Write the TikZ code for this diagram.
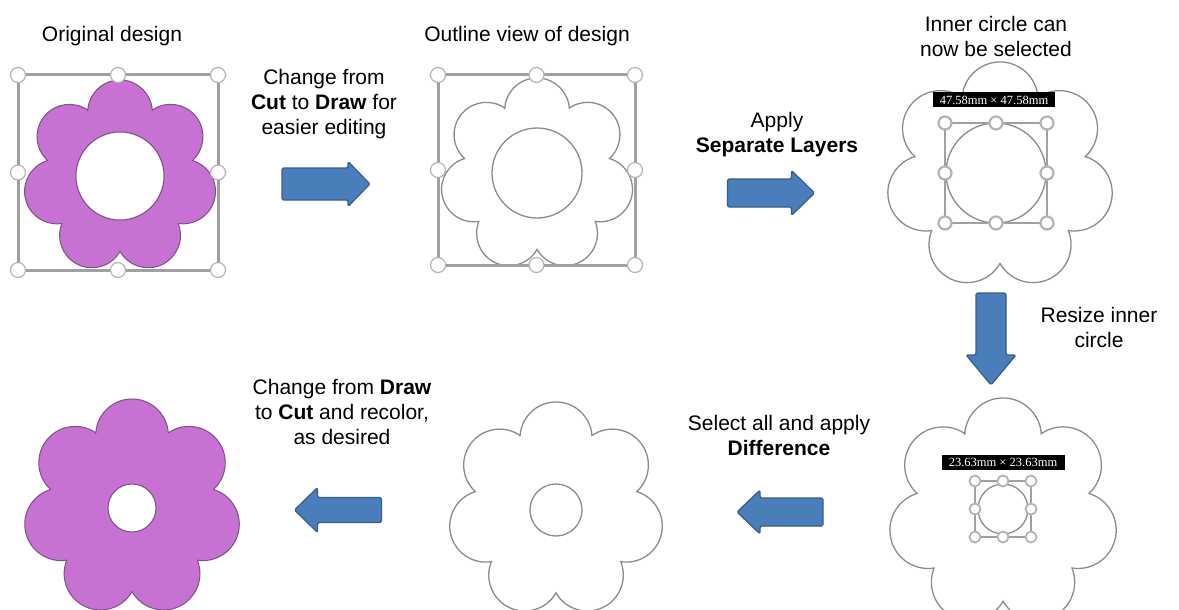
\documentclass[tikz,border=0pt]{standalone}
\usepackage{fontspec}
\setmainfont{Liberation Sans}
\newfontfamily\lblfont{Liberation Serif}
\definecolor{petal}{RGB}{199,113,211}
\definecolor{pedge}{RGB}{125,80,135}
\definecolor{lineg}{RGB}{140,140,140}
\definecolor{boxg}{RGB}{160,160,160}
\definecolor{handg}{RGB}{180,180,180}
\definecolor{arrfill}{RGB}{74,126,187}
\definecolor{arredge}{RGB}{56,93,138}
\tikzset{
  flower/.pic={\path[pic actions] (-115.7143:0.7657)
     \foreach \k [evaluate=\k as \a using -176.06+\k*51.428571] in {0,...,6}
       { arc[start angle=\a, delta angle=172.12, radius=0.3333] } -- cycle;},
  outl/.style={draw=lineg, line width=1.3pt},
  pflower/.style={draw=pedge, fill=petal, line width=1pt},
  selb/.style={draw=boxg, line width=3pt},
  handle/.style={circle, draw=handg, fill=white, line width=1.2pt, minimum size=15pt, inner sep=0pt},
  barrow/.style={draw=arredge, fill=arrfill, line width=1.2pt, rounded corners=1.5pt, line join=round},
  txt/.style={align=center, font=\fontsize{21}{25}\selectfont, inner sep=0pt},
  lbl/.style={fill=black, text=white, font=\lblfont\fontsize{12.5}{12.5}\selectfont, inner sep=1pt, minimum height=15pt},
}
% x, y, rotation, length, shaft half, head half, head length
\newcommand\blockarrow[7]{%
  \begin{scope}[shift={(#1,#2)}, rotate=#3]
    \draw[barrow] ({-#4/2},{-#5}) -- ({#4/2-#7},{-#5}) -- ({#4/2-#7},{-#6}) -- ({#4/2},0)
      -- ({#4/2-#7},{#6}) -- ({#4/2-#7},{#5}) -- ({-#4/2},{#5}) -- cycle;
  \end{scope}}
% x1 y1 x2 y2 name options
\newcommand\selbox[6]{%
  \draw[selb,#6] (#1,#2) rectangle (#3,#4);
  \path[every node/.style={handle,#6}]
    (#1,#2) node (#5-1) {} ({(#1+#3)/2},#2) node (#5-2) {} (#3,#2) node (#5-3) {}
    (#1,{(#2+#4)/2}) node (#5-4) {} (#3,{(#2+#4)/2}) node (#5-5) {}
    (#1,#4) node (#5-6) {} ({(#1+#3)/2},#4) node (#5-7) {} (#3,#4) node (#5-8) {};
}
\begin{document}
\begin{tikzpicture}[x=1pt, y=-1pt]
\useasboundingbox (0,0) rectangle (1179,610);
\fill[white] (0,0) rectangle (1179,610);
\clip (0,0) rectangle (1179,610);

% ---- texts
\node[txt] (t1) at (112,36) {Original design};
\node[txt] (t2) at (527,36) {Outline view of design};
\node[txt] (t3) at (996,36) {Inner circle can\\now be selected};
\node[txt] (t4) at (324,104) {Change from\\\textbf{Cut} to \textbf{Draw} for\\easier editing};
\node[txt] (t5) at (777,135) {Apply\\\textbf{Separate Layers}};
\node[txt] (t6) at (1099,327) {Resize inner\\circle};
\node[txt] (t7) at (342,412) {Change from \textbf{Draw}\\to \textbf{Cut} and recolor,\\as desired};
\node[txt] (t8) at (779,435) {Select all and apply\\\textbf{Difference}};

% ---- flower 1 (original)
\pic[pflower, scale=97] (f1) at (120,177) {flower};
\draw[draw=pedge, fill=white, line width=1pt] (120,176) circle[radius=44];
\selbox{18}{75}{218}{270}{s1}{}

% ---- flower 2 (outline view)
\pic[outl, scale=97] (f2) at (537,175) {flower};
\draw[outl] (537,173) circle[radius=45];
\selbox{438}{75}{635}{265}{s2}{}

% ---- flower 3 (separate layers)
\pic[outl, scale=114] (f3) at (1000,176) {flower};
\draw[outl] (996,173) circle[radius=50];
\selbox{945}{123}{1047}{223}{s3}{line width=2.2pt, minimum size=13pt}
\node[lbl, minimum width=122pt] (l3) at (994,100) {47.58mm × 47.58mm};

% ---- flower 4 (resized)
\pic[outl, scale=115] (f4) at (1003,513) {flower};
\draw[outl] (1003,509) circle[radius=25];
\selbox{975}{481}{1031}{537}{s4}{line width=1.8pt, minimum size=11pt}
\node[lbl, minimum width=123pt] (l4) at (1003,462) {23.63mm × 23.63mm};

% ---- flower 5 (difference)
\pic[outl, scale=108] (f5) at (556,510) {flower};
\draw[outl] (556,510) circle[radius=26];

% ---- flower 6 (final)
\pic[pflower, scale=109] (f6) at (132,508) {flower};
\draw[draw=pedge, fill=white, line width=1pt] (132,508) circle[radius=24];

% ---- arrows
\blockarrow{326}{184}{0}{88}{16}{22.5}{22}
\blockarrow{771}{193}{0}{87}{14}{22.5}{23}
\blockarrow{991}{339}{-90}{92}{15}{25}{30}
\blockarrow{780}{512}{180}{86}{14}{22}{23}
\blockarrow{338}{510}{180}{87}{12.5}{22.5}{23}
\end{tikzpicture}
\end{document}
